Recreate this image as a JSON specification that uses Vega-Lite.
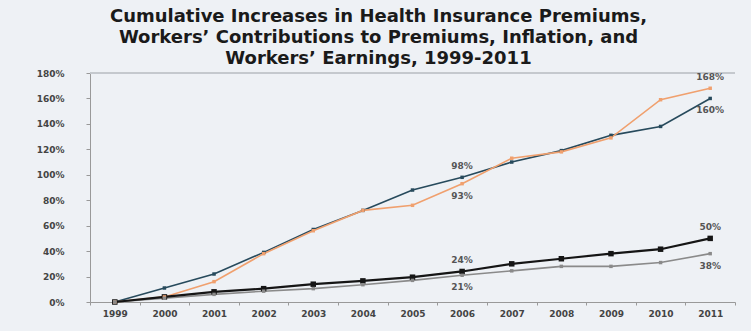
{
  "$schema": "https://vega.github.io/schema/vega-lite/v6.json",
  "autosize": {"type": "none"},
  "padding": {"left": 90, "top": 73, "right": 16, "bottom": 29},
  "width": 645,
  "height": 229,
  "background": "#eef1f5",
  "config": {
    "view": {"stroke": null},
    "font": "DejaVu Sans"
  },
  "title": {
    "text": ["Cumulative Increases in Health Insurance Premiums,", "Workers’ Contributions to Premiums, Inflation, and", "Workers’ Earnings, 1999-2011"],
    "font": "DejaVu Sans",
    "fontSize": 18,
    "fontWeight": "bold",
    "color": "#1a1a1a",
    "lineHeight": 21,
    "anchor": "middle",
    "dx": -34,
    "offset": 1
  },
  "data": {
    "values": [
      {"year": "1999", "series": "Health Insurance Premiums", "value": 0},
      {"year": "2000", "series": "Health Insurance Premiums", "value": 11},
      {"year": "2001", "series": "Health Insurance Premiums", "value": 22},
      {"year": "2002", "series": "Health Insurance Premiums", "value": 39},
      {"year": "2003", "series": "Health Insurance Premiums", "value": 57},
      {"year": "2004", "series": "Health Insurance Premiums", "value": 72},
      {"year": "2005", "series": "Health Insurance Premiums", "value": 88},
      {"year": "2006", "series": "Health Insurance Premiums", "value": 98, "label": "98%"},
      {"year": "2007", "series": "Health Insurance Premiums", "value": 110},
      {"year": "2008", "series": "Health Insurance Premiums", "value": 119},
      {"year": "2009", "series": "Health Insurance Premiums", "value": 131},
      {"year": "2010", "series": "Health Insurance Premiums", "value": 138},
      {"year": "2011", "series": "Health Insurance Premiums", "value": 160, "label": "160%"},
      {"year": "1999", "series": "Workers' Contribution to Premiums", "value": 0},
      {"year": "2000", "series": "Workers' Contribution to Premiums", "value": 4},
      {"year": "2001", "series": "Workers' Contribution to Premiums", "value": 16},
      {"year": "2002", "series": "Workers' Contribution to Premiums", "value": 38},
      {"year": "2003", "series": "Workers' Contribution to Premiums", "value": 56},
      {"year": "2004", "series": "Workers' Contribution to Premiums", "value": 72},
      {"year": "2005", "series": "Workers' Contribution to Premiums", "value": 76},
      {"year": "2006", "series": "Workers' Contribution to Premiums", "value": 93, "label": "93%"},
      {"year": "2007", "series": "Workers' Contribution to Premiums", "value": 113},
      {"year": "2008", "series": "Workers' Contribution to Premiums", "value": 118},
      {"year": "2009", "series": "Workers' Contribution to Premiums", "value": 129},
      {"year": "2010", "series": "Workers' Contribution to Premiums", "value": 159},
      {"year": "2011", "series": "Workers' Contribution to Premiums", "value": 168, "label": "168%"},
      {"year": "1999", "series": "Workers' Earnings", "value": 0},
      {"year": "2000", "series": "Workers' Earnings", "value": 4},
      {"year": "2001", "series": "Workers' Earnings", "value": 8},
      {"year": "2002", "series": "Workers' Earnings", "value": 10.5},
      {"year": "2003", "series": "Workers' Earnings", "value": 14},
      {"year": "2004", "series": "Workers' Earnings", "value": 16.6},
      {"year": "2005", "series": "Workers' Earnings", "value": 19.5},
      {"year": "2006", "series": "Workers' Earnings", "value": 24, "label": "24%"},
      {"year": "2007", "series": "Workers' Earnings", "value": 30},
      {"year": "2008", "series": "Workers' Earnings", "value": 34},
      {"year": "2009", "series": "Workers' Earnings", "value": 38},
      {"year": "2010", "series": "Workers' Earnings", "value": 41.5},
      {"year": "2011", "series": "Workers' Earnings", "value": 50, "label": "50%"},
      {"year": "1999", "series": "Overall Inflation", "value": 0},
      {"year": "2000", "series": "Overall Inflation", "value": 3},
      {"year": "2001", "series": "Overall Inflation", "value": 6},
      {"year": "2002", "series": "Overall Inflation", "value": 8.5},
      {"year": "2003", "series": "Overall Inflation", "value": 10.5},
      {"year": "2004", "series": "Overall Inflation", "value": 13.6},
      {"year": "2005", "series": "Overall Inflation", "value": 17},
      {"year": "2006", "series": "Overall Inflation", "value": 21, "label": "21%"},
      {"year": "2007", "series": "Overall Inflation", "value": 24.5},
      {"year": "2008", "series": "Overall Inflation", "value": 28},
      {"year": "2009", "series": "Overall Inflation", "value": 28},
      {"year": "2010", "series": "Overall Inflation", "value": 31},
      {"year": "2011", "series": "Overall Inflation", "value": 38, "label": "38%"}
    ]
  },
  "encoding": {
    "x": {
      "field": "year",
      "type": "ordinal",
      "bandPosition": 0.5,
      "scale": {"type": "band", "paddingInner": 0, "paddingOuter": 0},
      "axis": {
        "title": null,
        "labelAngle": 0,
        "labelFont": "DejaVu Sans",
        "labelFontSize": 9,
        "labelFontWeight": "bold",
        "labelColor": "#444",
        "labelPadding": 4,
        "tickBand": "extent",
        "tickSize": 3,
        "tickColor": "#999",
        "domainColor": "#999",
        "grid": false
      }
    },
    "y": {
      "field": "value",
      "type": "quantitative",
      "scale": {"domain": [0, 180], "nice": false},
      "axis": {
        "title": null,
        "values": [0, 20, 40, 60, 80, 100, 120, 140, 160, 180],
        "labelExpr": "datum.value + '%'",
        "labelFont": "DejaVu Sans",
        "labelFontSize": 9,
        "labelFontWeight": "bold",
        "labelColor": "#444",
        "labelPadding": 22,
        "tickSize": 4,
        "tickColor": "#999",
        "domainColor": "#999",
        "grid": false
      }
    },
    "color": {
      "field": "series",
      "type": "nominal",
      "legend": null,
      "scale": {
        "domain": ["Health Insurance Premiums", "Workers' Contribution to Premiums", "Workers' Earnings", "Overall Inflation"],
        "range": ["#274a5c", "#f0a06e", "#151515", "#8a8a8a"]
      }
    }
  },
  "layer": [
    {
      "mark": {"type": "rule", "color": "#c4c8cd", "strokeWidth": 1},
      "encoding": {"y": {"datum": 180}, "x": null, "color": null}
    },
    {
      "transform": [{"filter": "datum.series != 'Workers\\' Earnings'"}],
      "mark": {"type": "line", "strokeWidth": 1.6},
      "encoding": {"detail": {"field": "series"}}
    },
    {
      "transform": [{"filter": "datum.series == 'Workers\\' Earnings'"}],
      "mark": {"type": "line", "strokeWidth": 2.2}
    },
    {
      "transform": [{"filter": "datum.series == 'Workers\\' Earnings'"}],
      "mark": {"type": "point", "shape": "square", "filled": true, "size": 30, "opacity": 1}
    },
    {
      "transform": [{"filter": "datum.series != 'Workers\\' Earnings'"}],
      "mark": {"type": "point", "shape": "square", "filled": true, "size": 12, "opacity": 1}
    },
    {
      "transform": [{"filter": "datum.label != null && (datum.series == 'Workers\\' Earnings' || (datum.series == 'Health Insurance Premiums' && datum.year == '2006') || (datum.series == 'Workers\\' Contribution to Premiums' && datum.year == '2011'))"}],
      "mark": {"type": "text", "dy": -11, "fontSize": 9, "fontWeight": "bold", "color": "#555", "font": "DejaVu Sans"},
      "encoding": {"text": {"field": "label"}, "color": null}
    },
    {
      "transform": [{"filter": "datum.label != null && (datum.series == 'Overall Inflation' || (datum.series == 'Health Insurance Premiums' && datum.year == '2011') || (datum.series == 'Workers\\' Contribution to Premiums' && datum.year == '2006'))"}],
      "mark": {"type": "text", "dy": 12, "fontSize": 9, "fontWeight": "bold", "color": "#555", "font": "DejaVu Sans"},
      "encoding": {"text": {"field": "label"}, "color": null}
    }
  ]
}
